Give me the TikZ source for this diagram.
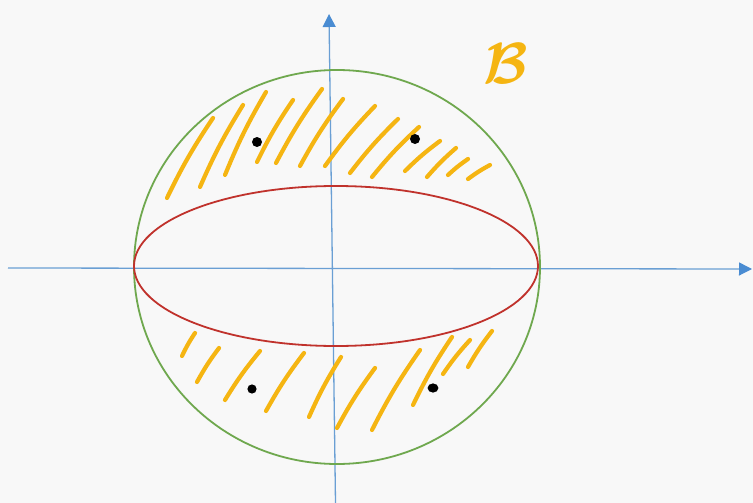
\documentclass[tikz,border=0pt]{standalone}
\usepackage{amsmath,bm}
\usetikzlibrary{arrows.meta}
\definecolor{bgc}{HTML}{F8F8F8}
\definecolor{axisblue}{HTML}{6A9FD4}
\definecolor{tipblue}{HTML}{4A8CD2}
\definecolor{ballgreen}{HTML}{6FA84E}
\definecolor{ellred}{HTML}{C0322C}
\definecolor{hatchy}{HTML}{F5B512}
\tikzset{
  axisline/.style={draw=axisblue, line width=1.3pt, -{Triangle[length=13pt,width=13pt,fill=tipblue,color=tipblue]}},
  hatchline/.style={draw=hatchy, line width=4.2pt, line cap=round},
  ptdot/.style={fill=black, draw=none},
}
\begin{document}
\begin{tikzpicture}[x=1pt,y=-1pt]
\fill[bgc] (0,0) rectangle (753,503);
\useasboundingbox (0,0) rectangle (753,503);
% axes
\coordinate (xl) at (8,268);
\coordinate (xr) at (752,269);
\coordinate (yb) at (335.5,503);
\coordinate (yt) at (329,14);
\draw[axisline] (xl) -- (xr);
\draw[axisline] (yb) -- (yt);
% ball and equator ellipse
\coordinate (c) at (337,267);
\draw[ballgreen, line width=1.8pt] (c) ellipse [x radius=203, y radius=197];
\draw[ellred, line width=1.8pt] (336,266) ellipse [x radius=202, y radius=80];
% upper hatching
\foreach \a/\b/\c/\d in {
 167/198/213/118, 200/187/243/105, 225/175/266/92, 257/162/293/100,
 276/163/322/89, 300/166/343/99, 325/166/375/106, 350/173/398/119,
 372/177/419/127, 405/171/440/141, 427/177/456/148, 448/175/468/159,
 468/179/490/165}
 \draw[hatchline] (\a,\b) to[bend left=4] (\c,\d);
% lower hatching
\foreach \a/\b/\c/\d in {
 182/356/195/333, 197/382/219/348, 225/400/260/351, 266/411/304/353,
 309/417/341/357, 337/428/375/368, 372/430/420/350, 413/405/452/337,
 443/374/470/340, 468/367/492/331}
 \draw[hatchline] (\a,\b) to[bend left=4] (\c,\d);
% points
\fill[ptdot] (257,142) circle (5);
\fill[ptdot] (415,139) circle (5);
\fill[ptdot] (252,389) circle (4.6);
\fill[ptdot] (433,388) ellipse [x radius=5.4, y radius=4.6];
% label
\node[text=hatchy, scale=5.8, inner sep=0pt] (lbl) at (506,64) {$\bm{\mathcal{B}}$};
\end{tikzpicture}
\end{document}
